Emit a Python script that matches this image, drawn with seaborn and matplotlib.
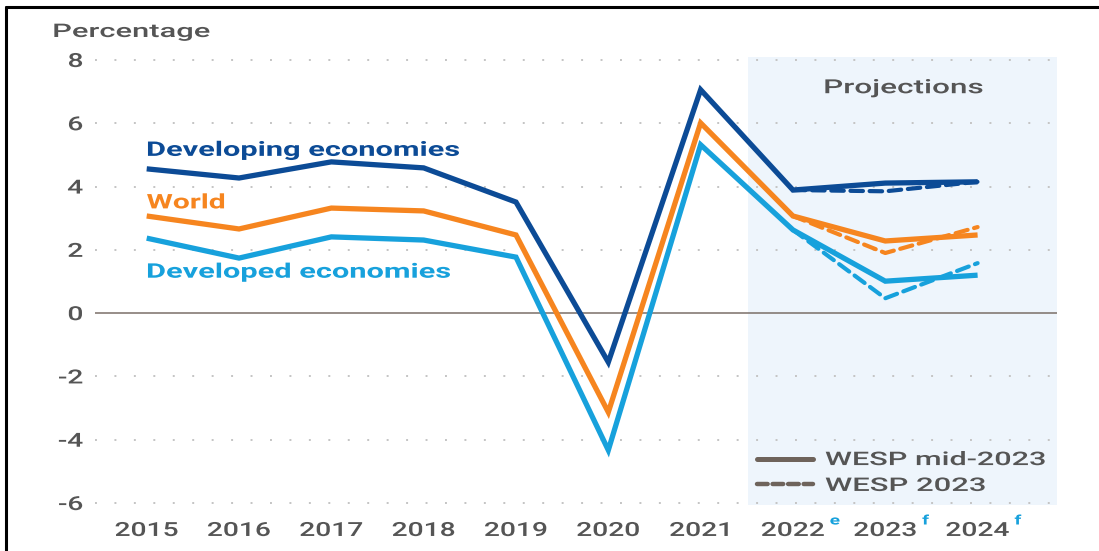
import matplotlib
matplotlib.use("Agg")
import matplotlib.pyplot as plt
import matplotlib.transforms as mtransforms
from matplotlib.transforms import Affine2D
from matplotlib.patheffects import AbstractPathEffect
from matplotlib.lines import Line2D
import seaborn as sns
import pandas as pd

years = [2015, 2016, 2017, 2018, 2019, 2020, 2021, 2022, 2023, 2024]
developing = [4.56, 4.27, 4.78, 4.59, 3.51, -1.55, 7.06, 3.89, 4.11, 4.15]
world = [3.07, 2.66, 3.32, 3.23, 2.47, -3.13, 6.01, 3.07, 2.28, 2.47]
developed = [2.37, 1.74, 2.41, 2.31, 1.77, -4.33, 5.32, 2.63, 1.01, 1.20]

proj_years = [2022, 2023, 2024]
developing_wesp2023 = [3.89, 3.85, 4.15]
world_wesp2023 = [3.07, 1.90, 2.72]
developed_wesp2023 = [2.63, 0.47, 1.58]

year_labels = ["2015", "2016", "2017", "2018", "2019", "2020", "2021", "2022", "2023", "2024"]
year_sups = {2022: "e", 2023: "f", 2024: "f"}
yticks = [-6, -4, -2, 0, 2, 4, 6, 8]


class Stretch(AbstractPathEffect):
    """Draw text horizontally stretched (glyphs are wide in the reference)."""

    def __init__(self, sx=None, width=None, anchor="left"):
        super().__init__()
        self.sx = sx
        self.width = width
        self.anchor = anchor

    def draw_path(self, renderer, gc, tpath, affine, rgbFace=None):
        ext = tpath.get_extents(affine)
        sx = self.sx
        if self.width is not None and ext.width > 0:
            sx = self.width / ext.width
        if self.anchor == "left":
            ax0 = ext.x0
        elif self.anchor == "right":
            ax0 = ext.x1
        else:
            ax0 = 0.5 * (ext.x0 + ext.x1)
        t = affine + Affine2D().translate(-ax0, 0).scale(sx, 1).translate(ax0, 0)
        renderer.draw_path(gc, tpath, t, rgbFace)


sns.set_theme(style="white")
plt.rcParams['font.family'] = ['Roboto', 'DejaVu Sans']

C_DEV = "#0c4b96"
C_WORLD = "#f6851f"
C_DVD = "#17a1dc"
C_TXT = "#555555"
C_LEG = "#6e635b"
SX = 1.45

fig = plt.figure(figsize=(10.99, 5.51), dpi=100)
ax = fig.add_axes([95/1099, 0.0842, (1057-95)/1099, 0.8969-0.0842])

ax.axvspan(2021.51, 2024.86, color="#eef5fc", zorder=0, lw=0)

for yv in yticks:
    if yv == 0:
        ax.axhline(0, color="#7a6f68", lw=1.1, zorder=1)
    else:
        ax.axhline(yv, color="#c4c4c4", lw=1.4, ls=(0, (1, 9)), zorder=1)

lw = 3.8
for vals, c in [(developed, C_DVD), (world, C_WORLD), (developing, C_DEV)]:
    df = pd.DataFrame({"year": years, "value": vals})
    sns.lineplot(data=df, x="year", y="value", color=c, lw=lw, ax=ax, zorder=3,
                 solid_joinstyle="miter", solid_capstyle="butt")
for vals, c in [(developed_wesp2023, C_DVD), (world_wesp2023, C_WORLD), (developing_wesp2023, C_DEV)]:
    df = pd.DataFrame({"year": proj_years, "value": vals})
    sns.lineplot(data=df, x="year", y="value", color=c, lw=3.0, ax=ax, zorder=2,
                 linestyle=(0, (3, 1.6)), dash_capstyle="round")

ax.set_xlim(2014.44, 2024.86)
ax.set_ylim(-6.05, 8.1)
ax.set_xticks(years)
ax.set_xticklabels(year_labels)
ax.set_yticks(yticks)
ax.set_yticklabels([str(v) for v in yticks])
ax.tick_params(axis="both", length=0, labelsize=14, labelcolor=C_TXT)
ax.tick_params(axis="x", pad=12.5)
ax.tick_params(axis="y", pad=8.6)
for lab in ax.get_xticklabels():
    lab.set_fontweight("medium")
    lab.set_path_effects([Stretch(sx=SX, anchor="center")])
for lab in ax.get_yticklabels():
    lab.set_fontweight("medium")
    lab.set_path_effects([Stretch(sx=SX, anchor="right")])
ax.set_xlabel("")
ax.set_ylabel("")
for s in ax.spines.values():
    s.set_visible(False)

trans = mtransforms.blended_transform_factory(ax.transData, ax.transAxes)
for yr, sup in year_sups.items():
    t = ax.text(yr + 0.40, -0.0366, sup, transform=trans, color=C_DVD, fontsize=9.5,
                fontweight="bold", ha="left", va="center")
    t.set_path_effects([Stretch(sx=SX, anchor="left")])

series_labels = [("Developing economies", 4.97, C_DEV, 311),
                 ("World", 3.31, C_WORLD, 77),
                 ("Developed economies", 1.12, C_DVD, 302)]
for txt, yv, c, w in series_labels:
    t = ax.text(2015, yv, txt, color=c, fontsize=14.5, fontweight="bold",
                ha="left", va="baseline")
    t.set_path_effects([Stretch(width=w, anchor="left")])

t = ax.text(2023.2, 6.95, "Projections", color=C_TXT, fontsize=14, ha="center",
            va="baseline", fontweight="medium")
t.set_path_effects([Stretch(width=157, anchor="center")])

t = fig.text(53/1099, 1 - 37/551, "Percentage", color=C_TXT, fontsize=13.5, ha="left",
             va="baseline", fontweight="medium")
t.set_path_effects([Stretch(width=155, anchor="left")])

handles = [Line2D([0], [0], color=C_LEG, lw=3.6, solid_capstyle="round"),
           Line2D([0], [0], color=C_LEG, lw=3.2, ls=(0, (2.4, 1.1)), dash_capstyle="round")]
leg = ax.legend(handles, ["WESP mid-2023", "WESP 2023"], loc="center left",
                bbox_to_anchor=(757/1099, 1 - 473/551), bbox_transform=fig.transFigure,
                frameon=False, fontsize=13.5, borderpad=0, borderaxespad=0,
                handlelength=3.0, handletextpad=0.64, labelspacing=0.42)
for t, w in zip(leg.get_texts(), [219, 159]):
    t.set_color(C_TXT)
    t.set_fontweight("medium")
    t.set_path_effects([Stretch(width=w, anchor="left")])

fig.add_artist(Line2D([6/1099, 6/1099], [0, 1 - 7/551], transform=fig.transFigure,
                      color="black", lw=2.2))
fig.add_artist(Line2D([6/1099, 1], [1 - 7/551, 1 - 7/551], transform=fig.transFigure,
                      color="black", lw=2.2))

fig.savefig("out.png", dpi=100)
